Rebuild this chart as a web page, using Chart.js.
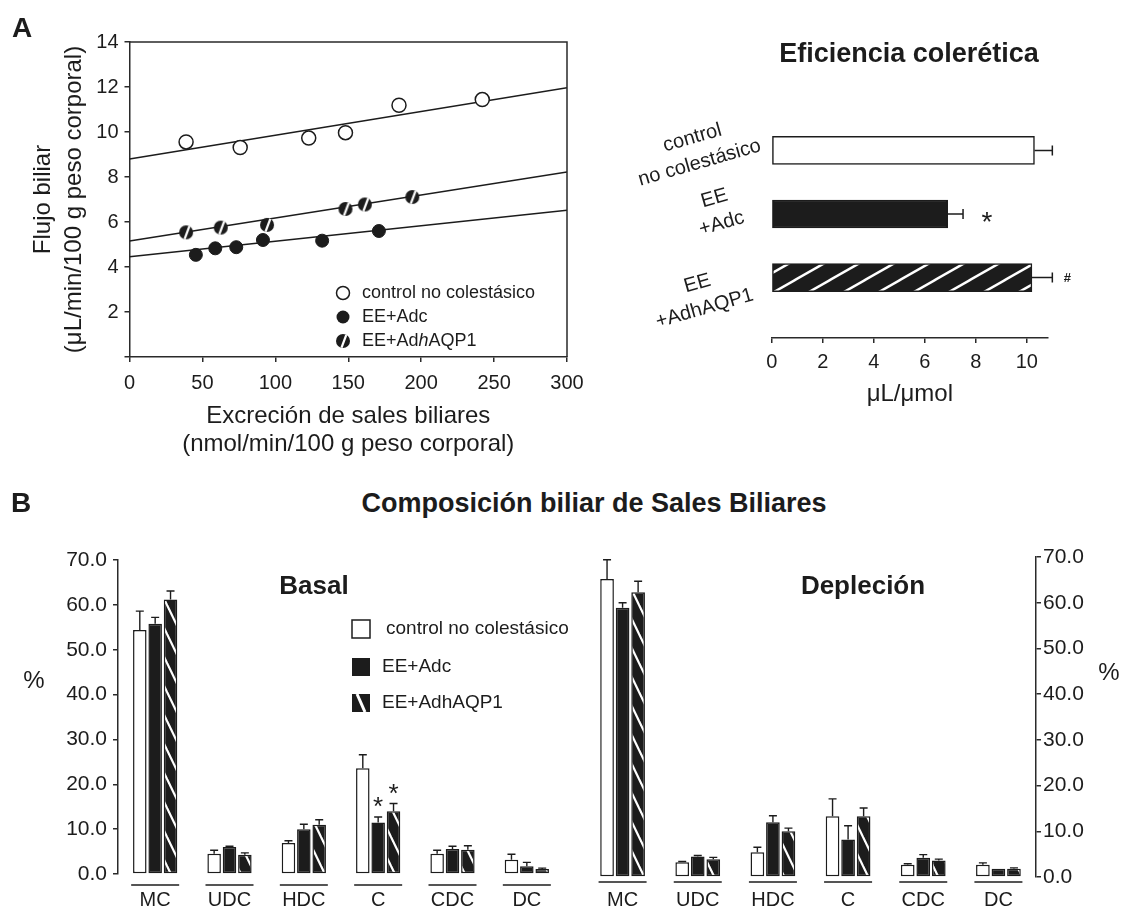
<!DOCTYPE html>
<html lang="es">
<head>
<meta charset="utf-8">
<title>Eficiencia colerética y composición biliar de sales biliares</title>
<script src="https://cdn.jsdelivr.net/npm/chart.js@4.4.1/dist/chart.umd.min.js"></script>
<style>
  html, body { margin: 0; padding: 0; background: #fff; }
  #fig { position: relative; width: 1123px; height: 912px; overflow: hidden;
         font-family: "Liberation Sans", Arial, sans-serif; color: #1c1c1c; }
  #fig canvas { position: absolute; }
  .lbl { position: absolute; transform: translate(-50%, -50%); white-space: nowrap; line-height: 1; }
  .b { font-weight: 700; }
</style>
</head>
<body>
<div id="fig">
  <canvas id="scatter" width="600" height="460" style="left:0;top:0"></canvas>
  <canvas id="eff" width="480" height="360" style="left:620px;top:60px"></canvas>
  <canvas id="basal" width="580" height="392" style="left:0;top:520px"></canvas>
  <canvas id="depl" width="553" height="392" style="left:570px;top:520px"></canvas>

  <div class="lbl b" style="left:22px;top:28px;font-size:28px">A</div>
  <div class="lbl b" style="left:909px;top:53px;font-size:27px">Eficiencia colerética</div>
  <div class="lbl b" style="left:21px;top:503px;font-size:28px">B</div>
  <div class="lbl b" style="left:594px;top:503px;font-size:27px">Composición biliar de Sales Biliares</div>
  <div class="lbl b" style="left:314px;top:585px;font-size:26px">Basal</div>
  <div class="lbl b" style="left:863px;top:585px;font-size:26px">Depleción</div>
  <div class="lbl" style="left:34px;top:680px;font-size:24px">%</div>
  <div class="lbl" style="left:1109px;top:672px;font-size:24px">%</div>
</div>
<script>
// ---- A (left): flujo biliar vs excreción de sales biliares ----
const ctrlX = [38.8, 75.9, 122.9, 148.1, 184.8, 241.9];
const ctrlY = [9.56, 9.31, 9.73, 9.97, 11.19, 11.44];
const adcX = [45.5, 58.8, 73.2, 91.5, 132.1, 171.0];
const adcY = [4.54, 4.83, 4.88, 5.20, 5.17, 5.60];
const aqpX = [38.8, 62.6, 94.3, 148.1, 161.4, 193.9];
const aqpY = [5.54, 5.75, 5.87, 6.58, 6.78, 7.11];
const fitX = [0, 300];
const ctrlFit = [8.80, 11.97];
const adcFit = [4.46, 6.52];
const aqpFit = [5.16, 8.22];
const scatterNames = ['control no colestásico', 'EE+Adc', 'EE+AdhAQP1'];

// ---- A (right): eficiencia colerética ----
const effGroups = [['control', 'no colestásico'], ['EE', '+Adc'], ['EE', '+AdhAQP1']];
const effMean = [10.3, 6.9, 10.2];
const effSem = [0.7, 0.6, 0.8];
const effMark = ['', '*', '#'];

// ---- B: composición biliar (%) ----
const acids = ['MC', 'UDC', 'HDC', 'C', 'CDC', 'DC'];
const groupNames = ['control no colestásico', 'EE+Adc', 'EE+AdhAQP1'];
const basalCtrl = [54.4, 4.5, 6.9, 23.6, 4.5, 3.2];
const basalCtrlErr = [4.2, 0.8, 0.5, 3.0, 0.8, 1.2];
const basalAdc = [55.8, 6.0, 10.0, 11.5, 5.6, 1.7];
const basalAdcErr = [1.4, 0.2, 1.1, 1.2, 0.6, 0.9];
const basalAqp = [61.2, 4.3, 11.0, 14.0, 5.4, 1.1];
const basalAqpErr = [1.9, 0.4, 1.1, 1.7, 0.9, 0.2];
const basalMarkAdc = ['', '', '', '*', '', ''];
const basalMarkAqp = ['', '', '', '*', '', ''];
const deplCtrl = [65.2, 3.2, 5.4, 13.3, 2.7, 2.7];
const deplCtrlErr = [4.2, 0.2, 1.1, 3.8, 0.2, 0.4];
const deplAdc = [58.9, 4.5, 12.0, 8.2, 4.2, 1.8];
const deplAdcErr = [1.1, 0.2, 1.4, 3.0, 0.7, 0.0];
const deplAqp = [62.3, 3.9, 10.0, 13.3, 3.6, 1.8];
const deplAqpErr = [2.4, 0.4, 0.7, 1.8, 0.3, 0.2];

const FONT = '"Liberation Sans", Arial, sans-serif';
const INK = '#1c1c1c';
const AXIS = '#2a2a2a';

Chart.defaults.font.family = FONT;
Chart.defaults.color = INK;
Chart.defaults.animation = false;
Chart.defaults.plugins.legend.display = false;
Chart.defaults.plugins.tooltip.enabled = false;

// diagonal white stripes on black, continuous across tiles
function stripes(w, h, dir, lw) {
  const c = document.createElement('canvas');
  c.width = w; c.height = h;
  const g = c.getContext('2d');
  g.fillStyle = INK;
  g.fillRect(0, 0, w, h);
  g.strokeStyle = '#fff';
  g.lineWidth = lw;
  for (const dx of [-w, 0, w]) {
    g.beginPath();
    if (dir === '/') { g.moveTo(dx - w, 2 * h); g.lineTo(dx + 2 * w, -h); }
    else { g.moveTo(dx - w, -h); g.lineTo(dx + 2 * w, 2 * h); }
    g.stroke();
  }
  return g.createPattern(c, 'repeat');
}

// black dot with a white slash (EE+AdhAQP1 marker)
function slashDot(r) {
  const s = Math.ceil(r * 2 + 2);
  const c = document.createElement('canvas');
  c.width = c.height = s;
  const g = c.getContext('2d');
  g.beginPath();
  g.arc(s / 2, s / 2, r, 0, Math.PI * 2);
  g.fillStyle = INK;
  g.fill();
  g.save();
  g.clip();
  g.strokeStyle = '#fff';
  g.lineWidth = 2.2;
  g.beginPath();
  g.moveTo(s / 2 + 4, 0);
  g.lineTo(s / 2 - 2, s);
  g.stroke();
  g.restore();
  return c;
}

const aqpDot = slashDot(7);
const pts = (xs, ys) => xs.map((x, i) => ({ x, y: ys[i] }));

// top + right frame for the scatter panel
const frame = {
  id: 'frame',
  afterDraw(chart) {
    const { ctx, chartArea: a } = chart;
    ctx.save();
    ctx.strokeStyle = AXIS;
    ctx.lineWidth = 1.5;
    ctx.beginPath();
    ctx.moveTo(a.left, a.top);
    ctx.lineTo(a.right, a.top);
    ctx.lineTo(a.right, a.bottom);
    ctx.stroke();
    ctx.restore();
  }
};

// legend inside the scatter plot
const scatterLegend = {
  id: 'scatterLegend',
  afterDraw(chart) {
    const ctx = chart.ctx;
    const rows = [293, 317, 341];
    const mx = 343, tx = 362;
    ctx.save();
    ctx.textBaseline = 'middle';
    ctx.fillStyle = INK;
    ctx.strokeStyle = INK;
    ctx.lineWidth = 1.5;
    // markers
    ctx.beginPath(); ctx.arc(mx, rows[0], 6.5, 0, Math.PI * 2);
    ctx.fillStyle = '#fff'; ctx.fill(); ctx.stroke();
    ctx.fillStyle = INK;
    ctx.beginPath(); ctx.arc(mx, rows[1], 6.5, 0, Math.PI * 2); ctx.fill();
    ctx.drawImage(aqpDot, mx - aqpDot.width / 2, rows[2] - aqpDot.height / 2);
    // labels (italic "h" in AdhAQP1)
    ctx.font = '18px ' + FONT;
    ctx.fillText(scatterNames[0], tx, rows[0]);
    ctx.fillText(scatterNames[1], tx, rows[1]);
    const name = scatterNames[2];
    const k = name.indexOf('hAQP1');
    let x = tx;
    const parts = [[name.slice(0, k), ''], ['h', 'italic '], [name.slice(k + 1), '']];
    parts.forEach(([t, st]) => {
      ctx.font = st + '18px ' + FONT;
      ctx.fillText(t, x, rows[2]);
      x += ctx.measureText(t).width;
    });
    ctx.restore();
  }
};

new Chart(document.getElementById('scatter'), {
  type: 'scatter',
  data: {
    datasets: [
      { label: scatterNames[0], data: pts(ctrlX, ctrlY), order: 1,
        pointRadius: 7, pointBackgroundColor: '#fff', pointBorderColor: INK, pointBorderWidth: 1.5 },
      { label: scatterNames[1], data: pts(adcX, adcY), order: 1,
        pointRadius: 6.5, pointBackgroundColor: INK, pointBorderColor: INK, pointBorderWidth: 1 },
      { label: scatterNames[2], data: pts(aqpX, aqpY), order: 1,
        pointStyle: aqpDot, pointRadius: 7 },
      { data: pts(fitX, ctrlFit), showLine: true, pointRadius: 0, borderColor: INK, borderWidth: 1.5, order: 2 },
      { data: pts(fitX, adcFit), showLine: true, pointRadius: 0, borderColor: INK, borderWidth: 1.5, order: 2 },
      { data: pts(fitX, aqpFit), showLine: true, pointRadius: 0, borderColor: INK, borderWidth: 1.5, order: 2 }
    ]
  },
  options: {
    responsive: false,
    devicePixelRatio: 1,
    layout: { padding: { top: 42, right: 33, left: 0, bottom: 0 } },
    scales: {
      x: {
        type: 'linear', min: 0, max: 300,
        ticks: { stepSize: 50, font: { size: 20 }, padding: 9, color: INK },
        grid: { drawOnChartArea: false, tickLength: 5, color: AXIS, lineWidth: 1.5 },
        border: { display: true, color: AXIS, width: 1.5 },
        title: { display: true, text: ['Excreción de sales biliares', '(nmol/min/100 g peso corporal)'],
                 font: { size: 24, lineHeight: 1.15 }, padding: { top: 0, bottom: 2 }, color: INK },
        afterFit: s => { s.height = 103; }
      },
      y: {
        type: 'linear', min: 0, max: 14,
        ticks: { stepSize: 2, font: { size: 20 }, padding: 6, color: INK,
                 callback: v => (v === 0 ? '' : v) },
        grid: { drawOnChartArea: false, tickLength: 5, color: AXIS, lineWidth: 1.5 },
        border: { display: true, color: AXIS, width: 1.5 },
        title: { display: true, text: ['Flujo biliar', '(μL/min/100 g peso corporal)'],
                 font: { size: 24, lineHeight: 1.28 }, padding: { top: 28, bottom: 0 }, color: INK },
        afterFit: s => { s.width = 129.5; }
      }
    }
  },
  plugins: [frame, scatterLegend]
});

// ---- eficiencia colerética (horizontal bars) ----
const effLabelPos = [[76, 0], [98, -3], [81, 18.5]]; // label block centre x, y offset from bar
const effDecor = {
  id: 'effDecor',
  afterDatasetsDraw(chart) {
    const { ctx, scales: { x, y } } = chart;
    ctx.save();
    ctx.strokeStyle = INK;
    ctx.fillStyle = INK;
    ctx.lineWidth = 1.5;
    effMean.forEach((v, i) => {
      const x0 = x.getPixelForValue(v);
      const x1 = x.getPixelForValue(v + effSem[i]);
      const yc = y.getPixelForValue(i);
      ctx.beginPath();
      ctx.moveTo(x0, yc); ctx.lineTo(x1, yc);
      ctx.moveTo(x1, yc - 5); ctx.lineTo(x1, yc + 5);
      ctx.stroke();
      if (effMark[i] === '*') {
        ctx.font = '28px ' + FONT;
        ctx.textAlign = 'center';
        ctx.textBaseline = 'alphabetic';
        ctx.fillText('*', x1 + 24, yc + 17);
      } else if (effMark[i]) {
        ctx.font = 'bold 13px ' + FONT;
        ctx.textAlign = 'center';
        ctx.textBaseline = 'middle';
        ctx.fillText(effMark[i], x1 + 15, yc + 1);
      }
      // rotated group label
      const [cx, dy] = effLabelPos[i];
      ctx.save();
      ctx.translate(cx, yc + dy);
      ctx.rotate(-16 * Math.PI / 180);
      ctx.font = '20px ' + FONT;
      ctx.textAlign = 'center';
      ctx.textBaseline = 'middle';
      const lines = effGroups[i];
      lines.forEach((t, j) => ctx.fillText(t, 0, (j - (lines.length - 1) / 2) * 26));
      ctx.restore();
    });
    ctx.restore();
  }
};

new Chart(document.getElementById('eff'), {
  type: 'bar',
  data: {
    datasets: [{
      data: effMean.map((v, i) => ({ x: v, y: i })),
      backgroundColor: ['#fff', INK, stripes(35, 20, '/', 2.4)],
      borderColor: INK,
      borderWidth: 1.5,
      borderSkipped: false,
      barThickness: 28
    }]
  },
  options: {
    indexAxis: 'y',
    responsive: false,
    devicePixelRatio: 1,
    layout: { padding: { left: 151.7, right: 52, top: 44, bottom: 10 } },
    scales: {
      x: {
        type: 'linear', min: 0, max: 10.83,
        ticks: { stepSize: 2, includeBounds: false, font: { size: 20 }, padding: 7, color: INK },
        grid: { drawOnChartArea: false, tickLength: 5, color: AXIS, lineWidth: 1.5 },
        border: { display: true, color: AXIS, width: 1.5 },
        title: { display: true, text: 'μL/μmol', font: { size: 24 }, padding: { top: 0, bottom: 1 }, color: INK },
        afterFit: s => { s.height = 72; }
      },
      y: { type: 'linear', min: -0.5, max: 2.72, reverse: true, display: false }
    }
  },
  plugins: [effDecor]
});

// ---- B: grouped bars ----
const slashB = stripes(14, 29, '\\', 2.2);

function barDecor(errs, marks, underGap, legend) {
  return {
    id: 'barDecor',
    afterDatasetsDraw(chart) {
      const { ctx, scales: { x, y }, chartArea } = chart;
      ctx.save();
      ctx.strokeStyle = INK;
      ctx.fillStyle = INK;
      ctx.lineWidth = 1.4;
      chart.data.datasets.forEach((ds, d) => {
        const meta = chart.getDatasetMeta(d);
        ds.data.forEach((v, i) => {
          const bx = meta.data[i].x;
          const e = errs[d][i];
          const yTop = y.getPixelForValue(v);
          const yErr = y.getPixelForValue(v + e);
          if (e > 0) {
            ctx.beginPath();
            ctx.moveTo(bx, yTop); ctx.lineTo(bx, yErr);
            ctx.moveTo(bx - 4, yErr); ctx.lineTo(bx + 4, yErr);
            ctx.stroke();
          }
          if (marks[d] && marks[d][i]) {
            ctx.font = '26px ' + FONT;
            ctx.textAlign = 'center';
            ctx.textBaseline = 'alphabetic';
            ctx.fillText(marks[d][i], bx, yErr - 2);
          }
        });
      });
      // group underlines
      const uy = chartArea.bottom + underGap;
      ctx.strokeStyle = '#555';
      ctx.lineWidth = 2;
      ctx.beginPath();
      chart.data.labels.forEach((l, i) => {
        const cx = x.getPixelForValue(i);
        ctx.moveTo(cx - 24, uy); ctx.lineTo(cx + 24, uy);
      });
      ctx.stroke();
      if (legend) {
        const rows = [109, 147, 183];
        const sx = 352, sz = 18;
        ctx.lineWidth = 1.5;
        ctx.strokeStyle = INK;
        ctx.fillStyle = '#fff';
        ctx.fillRect(sx, rows[0] - sz / 2, sz, sz);
        ctx.strokeRect(sx, rows[0] - sz / 2, sz, sz);
        ctx.fillStyle = INK;
        ctx.fillRect(sx, rows[1] - sz / 2, sz, sz);
        ctx.fillRect(sx, rows[2] - sz / 2, sz, sz);
        ctx.save();
        ctx.beginPath();
        ctx.rect(sx, rows[2] - sz / 2, sz, sz);
        ctx.clip();
        ctx.strokeStyle = '#fff';
        ctx.lineWidth = 3;
        ctx.beginPath();
        ctx.moveTo(sx + 5, rows[2] - sz / 2);
        ctx.lineTo(sx + 13, rows[2] + sz / 2);
        ctx.stroke();
        ctx.restore();
        ctx.fillStyle = INK;
        ctx.font = '19px ' + FONT;
        ctx.textAlign = 'left';
        ctx.textBaseline = 'middle';
        ctx.fillText(groupNames[0], 386, rows[0]);
        ctx.fillText(groupNames[1], 382, rows[1]);
        ctx.fillText(groupNames[2], 382, rows[2]);
      }
      ctx.restore();
    }
  };
}

function groupedBars(id, series, side, pad, yWidth, xHeight, tickPad, labelPad, plugin) {
  const fills = ['#fff', INK, slashB];
  return new Chart(document.getElementById(id), {
    type: 'bar',
    data: {
      labels: acids,
      datasets: series.map((vals, k) => ({
        label: groupNames[k],
        data: vals,
        backgroundColor: fills[k],
        borderColor: INK,
        borderWidth: 1.5,
        borderSkipped: false,
        barPercentage: 0.88,
        categoryPercentage: 0.62
      }))
    },
    options: {
      responsive: false,
      devicePixelRatio: 1,
      layout: { padding: pad },
      scales: {
        x: {
          grid: { display: false, drawTicks: false },
          border: { display: false },
          ticks: { font: { size: 20 }, padding: labelPad, color: INK },
          afterFit: s => { s.height = xHeight; }
        },
        y: {
          position: side,
          min: 0, max: 70,
          ticks: { stepSize: 10, font: { size: 21 }, padding: tickPad, color: INK,
                   callback: v => v.toFixed(1) },
          grid: { drawOnChartArea: false, tickLength: 5, color: AXIS, lineWidth: 1.5 },
          border: { display: true, color: AXIS, width: 1.5 },
          afterFit: s => { s.width = yWidth; }
        }
      }
    },
    plugins: [plugin]
  });
}

groupedBars('basal', [basalCtrl, basalAdc, basalAqp], 'left',
  { top: 40, right: 16, left: 0, bottom: 0 }, 118, 38, 6, 14,
  barDecor([basalCtrlErr, basalAdcErr, basalAqpErr], [null, basalMarkAdc, basalMarkAqp], 11, true));

groupedBars('depl', [deplCtrl, deplAdc, deplAqp], 'right',
  { top: 37, right: 0, left: 15, bottom: 0 }, 87, 35, 2, 11,
  barDecor([deplCtrlErr, deplAdcErr, deplAqpErr], [], 5, false));
</script>
</body>
</html>
